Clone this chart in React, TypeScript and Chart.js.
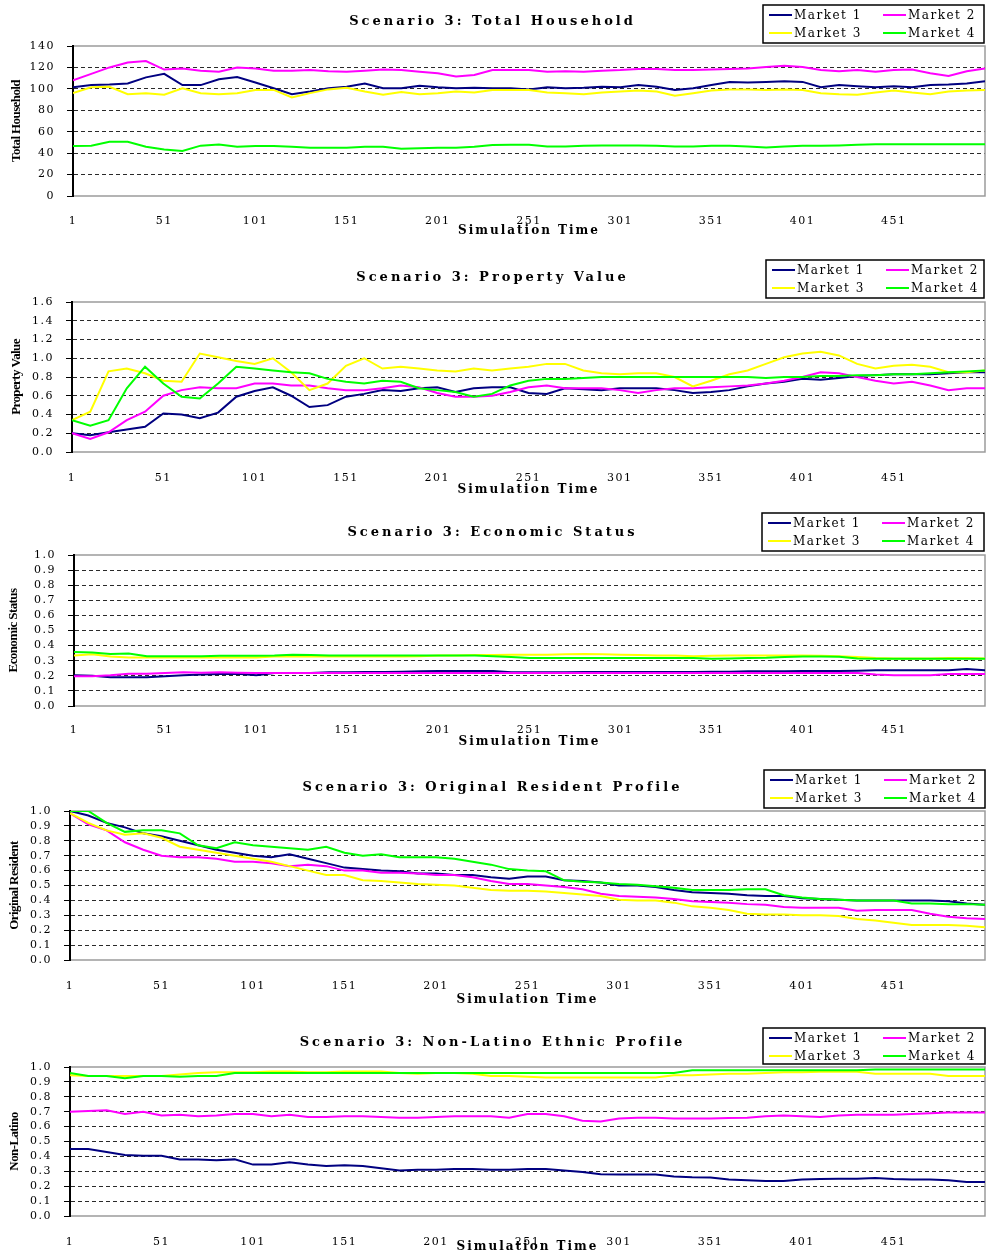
import React, { useEffect, useRef } from "react";
import { Chart, registerables } from "chart.js";

Chart.register(...registerables);

// ---------- data ----------
const TIMES = [
  1, 11, 21, 31, 41, 51, 61, 71, 81, 91,
  101, 111, 121, 131, 141, 151, 161, 171, 181, 191,
  201, 211, 221, 231, 241, 251, 261, 271, 281, 291,
  301, 311, 321, 331, 341, 351, 361, 371, 381, 391,
  401, 411, 421, 431, 441, 451, 461, 471, 481, 491,
  501,
];
const X_TICKS = [1, 51, 101, 151, 201, 251, 301, 351, 401, 451];
const MARKETS = ["Market 1", "Market 2", "Market 3", "Market 4"];
const COLORS = ["#000080", "#ff00ff", "#ffff00", "#00ff00"];

// Scenario 3: Total Household
const TH_M1 = [
  101.5, 103.5, 104, 105, 110.7, 114, 103.5, 103.5, 109, 111,
  106, 100.5, 95, 97.5, 100.5, 102, 105, 100.5, 100.5, 103,
  101.5, 100.5, 101, 100.5, 100.5, 99.5, 101.5, 100.5, 101, 102,
  101.5, 103.5, 102, 99, 100.5, 103.5, 106.5, 106, 106.5, 107,
  106.5, 101.5, 103.5, 102.5, 101.5, 102.5, 101.5, 103.5, 104, 105,
  107,
];
const TH_M2 = [
  108, 114, 120, 124.5, 126, 118, 119, 117, 116, 120,
  119, 117, 117, 117.5, 116.5, 116, 117, 118, 117.5, 116,
  114.5, 111.5, 113, 117.5, 117.5, 117.5, 116, 116.5, 116, 117,
  117.5, 118.5, 118.5, 117.5, 117.5, 118, 118.5, 119, 120.5, 121.5,
  120.5, 117.5, 116.5, 117.5, 116, 117.5, 118, 114.5, 112, 116.5,
  119,
];
const TH_M3 = [
  96, 101.5, 102, 95, 96, 94.5, 100.5, 96, 95, 96,
  99, 99, 92, 96, 99.5, 101, 97.5, 94.5, 97, 95,
  96, 97.5, 96.5, 99, 99, 99, 96.5, 96, 95, 96.5,
  97.5, 98.5, 97.5, 93.5, 96, 98.5, 99.5, 99.5, 99, 99.5,
  99, 96, 95, 94.5, 96.5, 98.5, 96.5, 95, 97.5, 98.5,
  99,
];
const TH_M4 = [
  46.7, 47, 50.7, 50.7, 46, 43.5, 42, 47, 48, 46,
  46.7, 46.7, 46, 45, 45, 45, 46, 46, 44, 44.5,
  45, 45, 46, 47.5, 47.8, 47.8, 46.2, 46.2, 46.8, 47.2,
  47.2, 47.2, 46.8, 46.2, 46.2, 46.8, 46.8, 46.2, 45.3, 46.2,
  46.8, 46.8, 47.2, 47.8, 48.4, 48.4, 48.4, 48.4, 48.4, 48.4,
  48.4,
];

// Scenario 3: Property Value
const PV_M1 = [
  0.2, 0.18, 0.21, 0.24, 0.27, 0.41, 0.4, 0.36, 0.42, 0.59,
  0.65, 0.69, 0.6, 0.48, 0.5, 0.59, 0.62, 0.66, 0.65, 0.68,
  0.69, 0.64, 0.68, 0.69, 0.69, 0.63, 0.62, 0.68, 0.67, 0.66,
  0.68, 0.68, 0.68, 0.66, 0.63, 0.64, 0.66, 0.7, 0.73, 0.75,
  0.78, 0.77, 0.79, 0.81, 0.82, 0.83, 0.83, 0.83, 0.84, 0.85,
  0.85,
];
const PV_M2 = [
  0.2, 0.14, 0.21, 0.34, 0.43, 0.6, 0.66, 0.69, 0.68, 0.68,
  0.73, 0.73, 0.71, 0.71, 0.68, 0.66, 0.66, 0.68, 0.71, 0.69,
  0.63, 0.59, 0.59, 0.6, 0.64, 0.69, 0.71, 0.68, 0.68, 0.68,
  0.66, 0.63, 0.66, 0.68, 0.68, 0.69, 0.7, 0.71, 0.73, 0.76,
  0.8, 0.85, 0.84, 0.8, 0.76, 0.73, 0.75, 0.71, 0.66, 0.68,
  0.68,
];
const PV_M3 = [
  0.34, 0.43, 0.86, 0.89, 0.84, 0.76, 0.75, 1.05, 1.01, 0.97,
  0.94, 1.0, 0.85, 0.66, 0.73, 0.92, 1.0, 0.89, 0.91, 0.89,
  0.87, 0.86, 0.89, 0.87, 0.89, 0.91, 0.94, 0.94, 0.87, 0.84,
  0.83, 0.84, 0.84, 0.8, 0.7, 0.76, 0.83, 0.87, 0.94, 1.01,
  1.05, 1.07, 1.03, 0.94, 0.89, 0.92, 0.93, 0.91, 0.85, 0.85,
  0.87,
];
const PV_M4 = [
  0.34, 0.28, 0.34, 0.68, 0.91, 0.73, 0.59, 0.57, 0.73, 0.91,
  0.89, 0.87, 0.85, 0.84, 0.78, 0.75, 0.73, 0.76, 0.75, 0.68,
  0.66, 0.64, 0.59, 0.62, 0.71, 0.76, 0.78, 0.78, 0.79, 0.8,
  0.8, 0.8, 0.8, 0.8, 0.8, 0.8, 0.8, 0.8, 0.79, 0.8,
  0.8, 0.81, 0.81, 0.82, 0.82, 0.83, 0.83, 0.84, 0.85, 0.86,
  0.87,
];

// Scenario 3: Economic Status
const ES_M1 = [
  0.204, 0.2, 0.19, 0.19, 0.19, 0.197, 0.204, 0.208, 0.212, 0.214,
  0.204, 0.219, 0.219, 0.219, 0.223, 0.223, 0.225, 0.225, 0.227, 0.23,
  0.232, 0.232, 0.232, 0.232, 0.223, 0.223, 0.223, 0.223, 0.225, 0.225,
  0.225, 0.225, 0.225, 0.225, 0.225, 0.227, 0.227, 0.23, 0.23, 0.23,
  0.232, 0.232, 0.232, 0.234, 0.236, 0.236, 0.236, 0.236, 0.236, 0.245,
  0.236,
];
const ES_M2 = [
  0.197, 0.197, 0.204, 0.214, 0.214, 0.219, 0.223, 0.221, 0.223, 0.221,
  0.219, 0.219, 0.219, 0.219, 0.219, 0.219, 0.219, 0.219, 0.219, 0.219,
  0.219, 0.219, 0.219, 0.219, 0.219, 0.219, 0.219, 0.219, 0.219, 0.219,
  0.219, 0.219, 0.219, 0.219, 0.219, 0.219, 0.219, 0.219, 0.219, 0.219,
  0.219, 0.219, 0.219, 0.219, 0.208, 0.204, 0.204, 0.204, 0.212, 0.212,
  0.212,
];
const ES_M3 = [
  0.335, 0.343, 0.328, 0.322, 0.322, 0.322, 0.322, 0.322, 0.322, 0.322,
  0.322, 0.328, 0.328, 0.328, 0.328, 0.328, 0.328, 0.328, 0.328, 0.33,
  0.335, 0.335, 0.338, 0.338, 0.34, 0.34, 0.34, 0.342, 0.345, 0.342,
  0.34, 0.338, 0.335, 0.335, 0.33, 0.333, 0.335, 0.335, 0.335, 0.335,
  0.335, 0.333, 0.33, 0.325, 0.318, 0.315, 0.315, 0.315, 0.318, 0.318,
  0.315,
];
const ES_M4 = [
  0.358, 0.355, 0.345, 0.348, 0.33, 0.33, 0.33, 0.33, 0.333, 0.333,
  0.333, 0.335, 0.34, 0.337, 0.335, 0.335, 0.335, 0.335, 0.335, 0.335,
  0.335, 0.335, 0.335, 0.33, 0.325, 0.318, 0.318, 0.318, 0.318, 0.318,
  0.318, 0.318, 0.318, 0.318, 0.318, 0.313, 0.315, 0.318, 0.32, 0.325,
  0.328, 0.328, 0.326, 0.315, 0.313, 0.313, 0.313, 0.313, 0.313, 0.313,
  0.313,
];

// Scenario 3: Original Resident Profile
const OR_M1 = [
  1.0, 0.97, 0.92, 0.89, 0.85, 0.83, 0.8, 0.77, 0.74, 0.72,
  0.7, 0.69, 0.71, 0.68, 0.65, 0.62, 0.61, 0.6, 0.595, 0.58,
  0.58, 0.57, 0.57, 0.555, 0.545, 0.56, 0.56, 0.535, 0.53, 0.52,
  0.5, 0.5, 0.49, 0.47, 0.455, 0.45, 0.445, 0.435, 0.43, 0.43,
  0.415, 0.41, 0.405, 0.4, 0.4, 0.4, 0.4, 0.4, 0.395, 0.38,
  0.37,
];
const OR_M2 = [
  0.985, 0.91, 0.87, 0.79, 0.74, 0.7, 0.69, 0.69, 0.68, 0.66,
  0.66, 0.65, 0.63, 0.64, 0.63, 0.6, 0.6, 0.585, 0.585, 0.58,
  0.57, 0.57, 0.555, 0.53, 0.51, 0.51, 0.5, 0.49, 0.475, 0.445,
  0.43, 0.425, 0.42, 0.41, 0.395, 0.39, 0.385, 0.375, 0.37, 0.355,
  0.35, 0.35, 0.35, 0.33, 0.335, 0.335, 0.335, 0.31, 0.29, 0.28,
  0.275,
];
const OR_M3 = [
  0.985, 0.92, 0.87, 0.84, 0.85, 0.82, 0.76, 0.74, 0.72, 0.7,
  0.68, 0.66, 0.63, 0.6, 0.57, 0.57, 0.535, 0.53, 0.52, 0.51,
  0.505, 0.5, 0.485, 0.47, 0.465, 0.465, 0.46, 0.45, 0.44, 0.43,
  0.405, 0.4, 0.4, 0.385, 0.36, 0.35, 0.335, 0.31, 0.305, 0.305,
  0.3, 0.3, 0.295, 0.275, 0.265, 0.25, 0.235, 0.235, 0.235, 0.23,
  0.22,
];
const OR_M4 = [
  1.0, 1.0, 0.92, 0.86, 0.87, 0.87, 0.85, 0.77, 0.75, 0.79,
  0.77, 0.76, 0.75, 0.74, 0.76, 0.72, 0.7, 0.71, 0.69, 0.69,
  0.69, 0.68, 0.66, 0.64, 0.61, 0.6, 0.595, 0.535, 0.525, 0.52,
  0.51, 0.505, 0.495, 0.485, 0.47, 0.47, 0.47, 0.475, 0.475, 0.435,
  0.42, 0.41, 0.405, 0.4, 0.4, 0.4, 0.38, 0.38, 0.375, 0.375,
  0.37,
];

// Scenario 3: Non-Latino Ethnic Profile
const NL_M1 = [
  0.45, 0.45, 0.43, 0.41, 0.405, 0.405, 0.38, 0.38, 0.375, 0.38,
  0.345, 0.345, 0.36, 0.345, 0.335, 0.34, 0.335, 0.32, 0.305, 0.31,
  0.31, 0.315, 0.315, 0.31, 0.31, 0.315, 0.315, 0.305, 0.295, 0.28,
  0.278, 0.278, 0.278, 0.265, 0.26, 0.258, 0.245, 0.24, 0.235, 0.235,
  0.245, 0.248, 0.25, 0.25, 0.255, 0.248, 0.245, 0.245, 0.24, 0.228,
  0.228,
];
const NL_M2 = [
  0.7, 0.705, 0.71, 0.685, 0.7, 0.675, 0.68, 0.67, 0.675, 0.685,
  0.685, 0.67, 0.68, 0.665, 0.665, 0.67, 0.67, 0.665, 0.66, 0.66,
  0.665, 0.67, 0.67, 0.67, 0.66, 0.685, 0.685, 0.67, 0.64, 0.635,
  0.655, 0.66, 0.66, 0.655, 0.655, 0.655, 0.658, 0.66, 0.67, 0.675,
  0.67, 0.665, 0.675, 0.68, 0.68, 0.68, 0.685, 0.69, 0.695, 0.695,
  0.695,
];
const NL_M3 = [
  0.945, 0.94, 0.94, 0.94, 0.94, 0.94, 0.95, 0.96, 0.965, 0.965,
  0.965, 0.97, 0.97, 0.965, 0.965, 0.97, 0.97, 0.97, 0.96, 0.955,
  0.96, 0.96, 0.955, 0.94, 0.94, 0.935, 0.93, 0.93, 0.93, 0.93,
  0.93, 0.93, 0.93, 0.945, 0.945, 0.95, 0.955, 0.955, 0.96, 0.965,
  0.965, 0.968, 0.968, 0.968, 0.955, 0.955, 0.955, 0.955, 0.94, 0.94,
  0.94,
];
const NL_M4 = [
  0.96, 0.94, 0.94, 0.925, 0.94, 0.94, 0.935, 0.94, 0.94, 0.96,
  0.96, 0.96, 0.96, 0.96, 0.96, 0.96, 0.96, 0.96, 0.96, 0.96,
  0.96, 0.96, 0.96, 0.96, 0.96, 0.96, 0.96, 0.96, 0.96, 0.96,
  0.96, 0.96, 0.96, 0.96, 0.978, 0.978, 0.978, 0.978, 0.978, 0.978,
  0.978, 0.978, 0.978, 0.978, 0.984, 0.984, 0.984, 0.984, 0.984, 0.984,
  0.984,
];

// ---------- panels ----------
const TITLES = [
  "Scenario 3: Total Household",
  "Scenario 3: Property Value",
  "Scenario 3: Economic Status",
  "Scenario 3: Original Resident Profile",
  "Scenario 3: Non-Latino Ethnic Profile",
];
const Y_TITLES = ["Total Household", "Property Value", "Economic Status", "Original Resident", "Non-Latino"];
const Y_MAX = [140, 1.6, 1.0, 1.0, 1.0];
const Y_STEP = [20, 0.2, 0.1, 0.1, 0.1];
const X_TITLE = "Simulation Time";

const SERIES = [
  [TH_M1, TH_M2, TH_M3, TH_M4],
  [PV_M1, PV_M2, PV_M3, PV_M4],
  [ES_M1, ES_M2, ES_M3, ES_M4],
  [OR_M1, OR_M2, OR_M3, OR_M4],
  [NL_M1, NL_M2, NL_M3, NL_M4],
];

// layout (page pixels)
const LAYOUTS = [
  { top: 0, height: 250, areaTop: 46, areaBottom: 196, titleY: 22, labelY: 213, axisTitleY: 231, left: 73, yTitleX: 17, legend: { x: 763, y: 5, w: 221, h: 38 } },
  { top: 252, height: 250, areaTop: 302, areaBottom: 452, titleY: 278, labelY: 470, axisTitleY: 490, left: 72, yTitleX: 17, legend: { x: 766, y: 8, w: 218, h: 38 } },
  { top: 505, height: 252, areaTop: 555, areaBottom: 706, titleY: 533, labelY: 722, axisTitleY: 742, left: 74, yTitleX: 14, legend: { x: 762, y: 8, w: 222, h: 38 } },
  { top: 760, height: 255, areaTop: 811, areaBottom: 960, titleY: 788, labelY: 978, axisTitleY: 1000, left: 70, yTitleX: 15, legend: { x: 764, y: 10, w: 221, h: 38 } },
  { top: 1018, height: 240, areaTop: 1067, areaBottom: 1216, titleY: 1043, labelY: 1234, axisTitleY: 1247, left: 70, yTitleX: 15, legend: { x: 763, y: 10, w: 222, h: 36 } },
];

const SERIF = '"DejaVu Serif", "Liberation Serif", serif';

function withSpacing(target: any, method: string, spacing: string) {
  if (!target || typeof target[method] !== "function") return;
  const orig = target[method];
  if (orig.__spaced) return;
  const fn: any = function (this: any, ...args: any[]) {
    const ctx = this.ctx;
    const prev = ctx.letterSpacing;
    ctx.letterSpacing = spacing;
    try {
      return orig.apply(this, args);
    } finally {
      ctx.letterSpacing = prev;
    }
  };
  fn.__spaced = true;
  target[method] = fn;
}

const decoPlugin: any = {
  id: "deco",
  beforeDraw(chart: any) {
    withSpacing(chart.titleBlock, "draw", "3px");
    const { x, y } = chart.scales;
    withSpacing(x, "drawLabels", "1.5px");
    withSpacing(x, "drawTitle", "2px");
    withSpacing(y, "drawLabels", "1.5px");
    withSpacing(y, "drawTitle", "-0.6px");
  },
  beforeDatasetsDraw(chart: any) {
    const { ctx, chartArea: a } = chart;
    ctx.save();
    ctx.strokeStyle = "#9c9c9c";
    ctx.lineWidth = 1.5;
    ctx.beginPath();
    ctx.moveTo(a.left + 1, a.top);
    ctx.lineTo(a.right, a.top);
    ctx.lineTo(a.right, a.bottom);
    ctx.lineTo(a.left + 1, a.bottom);
    ctx.stroke();
    ctx.restore();
  },
  afterDraw(chart: any, _args: any, opts: any) {
    const b = opts.box;
    if (!b) return;
    const ctx = chart.ctx;
    ctx.save();
    ctx.fillStyle = "#ffffff";
    ctx.fillRect(b.x, b.y, b.w, b.h);
    ctx.strokeStyle = "#000";
    ctx.lineWidth = 1.5;
    ctx.strokeRect(b.x, b.y, b.w, b.h);
    ctx.font = "12px " + SERIF;
    ctx.letterSpacing = "1.5px";
    ctx.textBaseline = "middle";
    ctx.textAlign = "left";
    chart.data.datasets.forEach((ds: any, i: number) => {
      const col = i % 2;
      const row = Math.floor(i / 2);
      const x0 = b.x + 6 + col * 114;
      const y0 = b.y + 10 + row * 18;
      ctx.strokeStyle = ds.borderColor;
      ctx.lineWidth = 2;
      ctx.beginPath();
      ctx.moveTo(x0, y0);
      ctx.lineTo(x0 + 23, y0);
      ctx.stroke();
      ctx.fillStyle = "#000";
      ctx.fillText(ds.label, x0 + 25, y0 + 1);
    });
    ctx.restore();
  },
};

function Panel({ index }: { index: number }) {
  const ref = useRef<HTMLCanvasElement | null>(null);
  const L = LAYOUTS[index];
  useEffect(() => {
    const yMax = Y_MAX[index];
    const decimals = Y_STEP[index] < 1;
    const datasets = SERIES[index].map((arr, i) => ({
      label: MARKETS[i],
      data: TIMES.map((t, k) => ({ x: t, y: arr[k] })),
      borderColor: COLORS[i],
      backgroundColor: COLORS[i],
      borderWidth: 2,
      pointRadius: 0,
      tension: 0,
      fill: false,
      order: 3 - i,
    }));
    const chart = new Chart(ref.current as HTMLCanvasElement, {
      type: "line",
      data: { datasets },
      plugins: [decoPlugin],
      options: {
        animation: false,
        responsive: false,
        events: [],
        layout: {
          padding: { left: 0, right: 3, top: 0, bottom: L.top + L.height - (L.axisTitleY + 7.2) },
        },
        plugins: {
          legend: { display: false },
          tooltip: { enabled: false },
          title: {
            display: true,
            text: TITLES[index],
            color: "#000",
            font: { family: SERIF, size: 13, weight: "bold" },
            padding: { top: L.titleY - L.top - 7.8, bottom: L.areaTop - L.titleY - 7.8 },
          },
          deco: { box: L.legend },
        } as any,
        scales: {
          x: {
            type: "linear",
            min: 1,
            max: 501,
            bounds: "data",
            afterBuildTicks: (s: any) => {
              s.ticks = X_TICKS.map((v) => ({ value: v }));
            },
            afterFit: (s: any) => {
              s.height = L.axisTitleY + 7.2 - L.areaBottom;
            },
            ticks: {
              autoSkip: false,
              maxRotation: 0,
              color: "#000",
              padding: L.labelY - L.areaBottom - 6.6,
              font: { family: SERIF, size: 11 },
              callback: (v: any) => String(v),
            },
            grid: { display: false },
            border: { display: false },
            title: {
              display: true,
              text: X_TITLE,
              color: "#000",
              font: { family: SERIF, size: 12, weight: "bold" },
              padding: 0,
            },
          },
          y: {
            type: "linear",
            min: 0,
            max: yMax,
            afterFit: (s: any) => {
              s.width = L.left;
            },
            ticks: {
              stepSize: Y_STEP[index],
              autoSkip: false,
              color: "#000",
              padding: 12,
              font: { family: SERIF, size: 11 },
              callback: (v: any) => (decimals ? Number(v).toFixed(1) : String(v)),
            },
            grid: {
              color: (c: any) => {
                const v = c.tick ? c.tick.value : 0;
                return v <= 1e-9 || Math.abs(v - yMax) < 1e-6 ? "rgba(0,0,0,0)" : "#2a2a2a";
              },
              lineWidth: 1,
              drawTicks: true,
              tickLength: 6,
              tickColor: "#000",
              tickWidth: 1,
            },
            border: { display: true, color: "#000", width: 2, dash: [4, 3] },
            title: {
              display: true,
              text: Y_TITLES[index],
              color: "#000",
              font: { family: '"Liberation Serif", "Times New Roman", serif', size: 13, weight: "bold" },
              padding: { top: L.yTitleX - 7.8, bottom: 0 },
            },
          },
        },
      } as any,
    });
    return () => chart.destroy();
  }, [index]);
  return (
    <canvas
      ref={ref}
      width={988}
      height={L.height}
      style={{ position: "absolute", left: 0, top: L.top, width: 988, height: L.height, display: "block" }}
    />
  );
}

export default function App() {
  return (
    <div style={{ position: "absolute", left: 0, top: 0, width: 988, height: 1254, background: "#fff", overflow: "hidden" }}>
      {LAYOUTS.map((_, i) => (
        <Panel key={i} index={i} />
      ))}
    </div>
  );
}
